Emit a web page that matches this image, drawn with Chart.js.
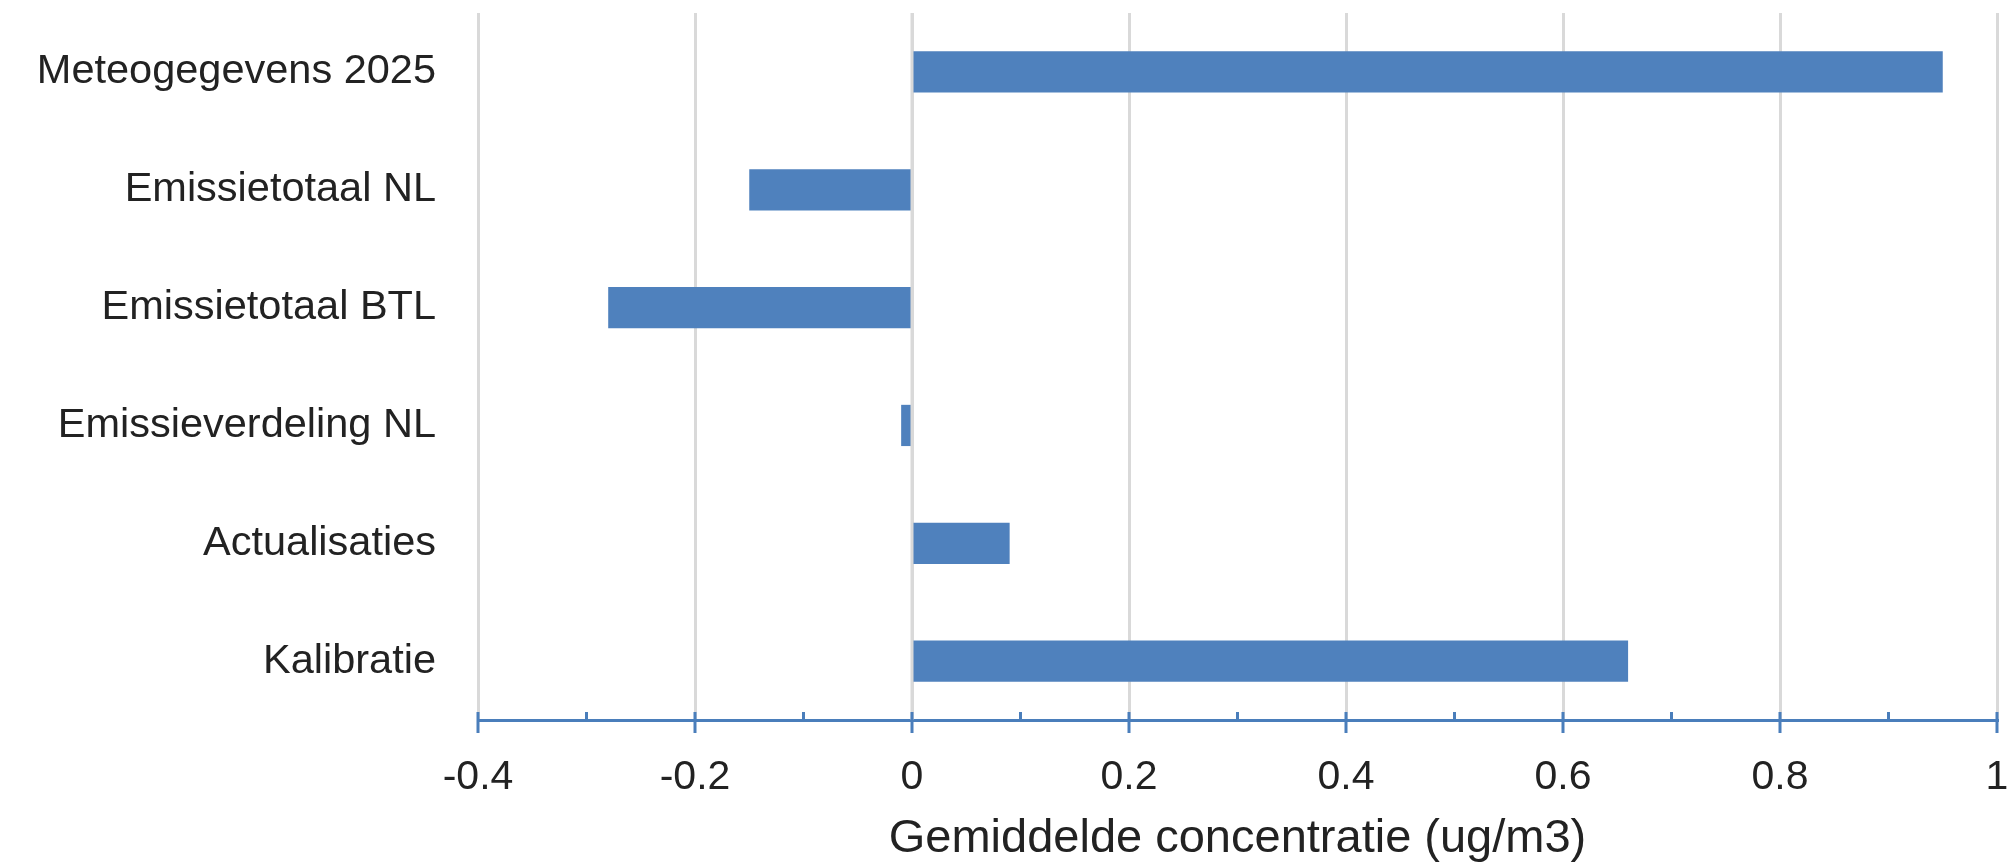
<!DOCTYPE html>
<html>
<head>
<meta charset="utf-8">
<script src="https://cdn.jsdelivr.net/npm/chart.js@4.4.1/dist/chart.umd.min.js"></script>
<style>
html,body{margin:0;padding:0;background:#ffffff;}
#wrap{width:2009px;height:864px;position:relative;}
</style>
</head>
<body>
<div id="wrap"><canvas id="c"></canvas></div>
<script>
const categories = ["Meteogegevens 2025","Emissietotaal NL","Emissietotaal BTL","Emissieverdeling NL","Actualisaties","Kalibratie"];
const values = [0.95, -0.15, -0.28, -0.01, 0.09, 0.66];
const xMajorTicks = [-0.4, -0.2, 0, 0.2, 0.4, 0.6, 0.8, 1];
const xMinorTicks = [-0.3, -0.1, 0.1, 0.3, 0.5, 0.7, 0.9];
const axisTitle = "Gemiddelde concentratie (ug/m3)";

const FONT = "'Liberation Sans', Arial, sans-serif";
const AXIS_BLUE = '#4a7ebb';
const GRID = '#d9d9d9';
const TEXT = '#222222';

const axisDeco = {
  id: 'axisDeco',
  afterDatasetsDraw(chart) {
    const x = chart.scales.x, a = chart.chartArea, ctx = chart.ctx;
    const p0 = x.getPixelForValue(0);
    ctx.save();
    ctx.strokeStyle = GRID;
    ctx.lineWidth = 3;
    ctx.beginPath();
    ctx.moveTo(p0, a.top);
    ctx.lineTo(p0, a.bottom);
    ctx.stroke();
    ctx.restore();
  },
  afterDraw(chart) {
    const x = chart.scales.x, ctx = chart.ctx;
    const ay = x.top;
    ctx.save();
    ctx.strokeStyle = AXIS_BLUE;
    ctx.lineWidth = 3;
    ctx.beginPath();
    xMajorTicks.forEach(v => {
      const p = x.getPixelForValue(v);
      ctx.moveTo(p, ay - 8);
      ctx.lineTo(p, ay + 13);
    });
    xMinorTicks.forEach(v => {
      const p = x.getPixelForValue(v);
      ctx.moveTo(p, ay - 8);
      ctx.lineTo(p, ay);
    });
    ctx.stroke();
    ctx.restore();
  }
};

new Chart(document.getElementById('c'), {
  type: 'bar',
  data: {
    labels: categories,
    datasets: [{
      data: values,
      backgroundColor: '#4F81BD',
      borderWidth: 0,
      categoryPercentage: 1.0,
      barPercentage: 0.35
    }]
  },
  options: {
    indexAxis: 'y',
    responsive: true,
    maintainAspectRatio: false,
    animation: false,
    devicePixelRatio: 1,
    layout: { padding: { top: 0, right: 12, left: 0, bottom: 0 } },
    plugins: { legend: { display: false }, tooltip: { enabled: false } },
    scales: {
      x: {
        type: 'linear',
        min: -0.4,
        max: 1,
        ticks: {
          stepSize: 0.2,
          color: TEXT,
          font: { family: FONT, size: 41 },
          padding: 0,
          callback: v => String(Number(Number(v).toFixed(1)))
        },
        grid: {
          color: GRID,
          lineWidth: 3,
          drawTicks: true,
          tickLength: 33,
          tickColor: 'rgba(0,0,0,0)'
        },
        border: { display: true, color: AXIS_BLUE, width: 3 },
        title: {
          display: true,
          text: axisTitle,
          color: TEXT,
          font: { family: FONT, size: 47, lineHeight: 1.05 },
          padding: { top: 0, bottom: 0 }
        },
        afterFit(s) { s.height = 144; }
      },
      y: {
        ticks: {
          color: TEXT,
          font: { family: FONT, size: 41.5, lineHeight: 0.63 },
          padding: 0
        },
        grid: {
          display: true,
          drawOnChartArea: false,
          drawTicks: true,
          tickLength: 42,
          tickColor: 'rgba(0,0,0,0)',
          color: 'rgba(0,0,0,0)'
        },
        border: { display: false },
        afterFit(s) { s.width = 478; }
      }
    }
  },
  plugins: [axisDeco]
});
</script>
</body>
</html>
